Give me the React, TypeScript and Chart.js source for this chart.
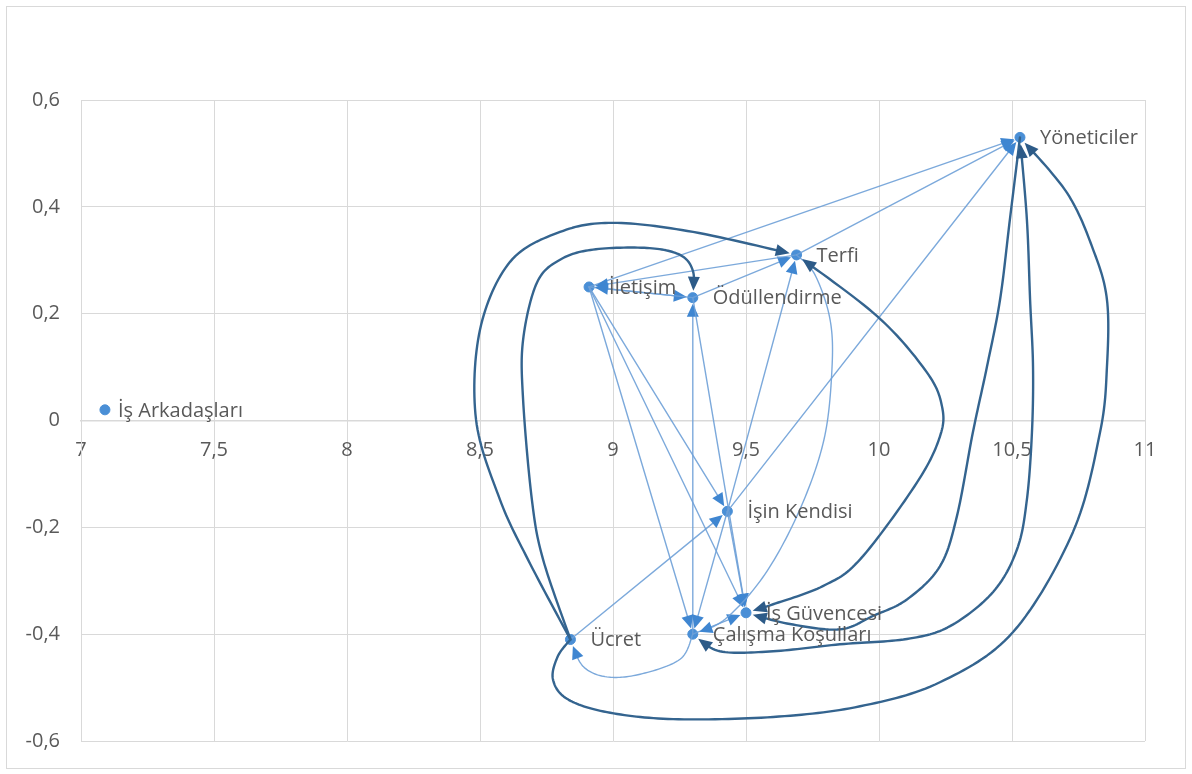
import React, { useEffect, useRef } from "react";
import { Chart, registerables } from "chart.js";

Chart.register(...registerables);

// ---------- data ----------
const nodeNames = [
  "Yöneticiler",
  "Terfi",
  "İletişim",
  "Ödüllendirme",
  "İşin Kendisi",
  "İş Güvencesi",
  "Çalışma Koşulları",
  "Ücret",
  "İş Arkadaşları",
];
const nodeX = [10.53, 9.69, 8.91, 9.3, 9.43, 9.5, 9.3, 8.84, 7.09];
const nodeY = [0.53, 0.31, 0.25, 0.23, -0.17, -0.36, -0.4, -0.41, 0.02];

const xTicks = [7, 7.5, 8, 8.5, 9, 9.5, 10, 10.5, 11];
const yTicks = [-0.6, -0.4, -0.2, 0, 0.2, 0.4, 0.6];

// straight (light) arrows: from index -> to index
const straightFrom = [2, 1, 4, 4, 3, 1, 2, 3, 6, 2, 2, 2, 3, 7, 4, 4, 6];
const straightTo = [0, 0, 0, 1, 1, 2, 3, 2, 3, 4, 5, 6, 5, 4, 6, 5, 5];

// curved arrows: from, to, waypoints (data units), heads
const curveUcretTerfiX = [8.68, 8.575, 8.485, 8.5, 8.613, 8.801, 9.0, 9.301];
const curveUcretTerfiY = [-0.26, -0.148, 0.002, 0.17, 0.297, 0.353, 0.37, 0.353];

const curveUcretOdulX = [8.737, 8.695, 8.662, 8.662, 8.714, 8.801, 8.925, 9.128, 9.252, 9.301];
const curveUcretOdulY = [-0.26, -0.148, 0.039, 0.151, 0.258, 0.301, 0.32, 0.323, 0.31, 0.279];

const curveUcretYonX = [8.793, 8.774, 8.827, 8.977, 9.226, 9.602, 9.929, 10.229, 10.504, 10.729, 10.831, 10.857, 10.857, 10.805, 10.707];
const curveUcretYonY = [-0.441, -0.484, -0.521, -0.546, -0.559, -0.555, -0.535, -0.49, -0.396, -0.209, -0.022, 0.101, 0.226, 0.32, 0.426];

const curveGuvTerfiX = [9.602, 9.789, 9.929, 10.143, 10.229, 10.237, 10.18, 9.996];
const curveGuvTerfiY = [-0.344, -0.31, -0.26, -0.116, -0.03, 0.026, 0.09, 0.194];

const curveYonGuvX = [10.492, 10.455, 10.406, 10.353, 10.293, 10.229, 10.105, 9.977, 9.853, 9.665];
const curveYonGuvY = [0.376, 0.226, 0.101, -0.022, -0.179, -0.273, -0.335, -0.366, -0.391, -0.381];

const curveYonCalX = [10.556, 10.568, 10.579, 10.575, 10.556, 10.519, 10.429, 10.267, 10.105, 9.853, 9.602, 9.402];
const curveYonCalY = [0.376, 0.226, 0.101, -0.022, -0.148, -0.241, -0.321, -0.385, -0.409, -0.419, -0.432, -0.432];

const curveCalUcretX = [9.252, 9.102, 8.977, 8.887];
const curveCalUcretY = [-0.447, -0.475, -0.48, -0.46];

const curveTerfiCalX = [9.759, 9.816, 9.823, 9.793, 9.703, 9.571, 9.421];
const curveTerfiCalY = [0.273, 0.189, 0.095, -0.036, -0.166, -0.288, -0.372];

const darkCurves = [
  { from: 7, to: 1, xs: curveUcretTerfiX, ys: curveUcretTerfiY, both: false },
  { from: 7, to: 3, xs: curveUcretOdulX, ys: curveUcretOdulY, both: false },
  { from: 7, to: 0, xs: curveUcretYonX, ys: curveUcretYonY, both: false },
  { from: 5, to: 1, xs: curveGuvTerfiX, ys: curveGuvTerfiY, both: true },
  { from: 0, to: 5, xs: curveYonGuvX, ys: curveYonGuvY, both: false },
  { from: 0, to: 6, xs: curveYonCalX, ys: curveYonCalY, both: true },
];
const lightCurves = [
  { from: 6, to: 7, xs: curveCalUcretX, ys: curveCalUcretY, both: false },
  { from: 1, to: 6, xs: curveTerfiCalX, ys: curveTerfiCalY, both: false },
];

// ---------- helpers ----------
type P = { x: number; y: number };

function catmull(pts: P[]): P[] {
  const out: P[] = [];
  const n = pts.length;
  for (let i = 0; i < n - 1; i++) {
    const p0 = pts[Math.max(0, i - 1)];
    const p1 = pts[i];
    const p2 = pts[i + 1];
    const p3 = pts[Math.min(n - 1, i + 2)];
    const c1 = { x: p1.x + (p2.x - p0.x) / 6, y: p1.y + (p2.y - p0.y) / 6 };
    const c2 = { x: p2.x - (p3.x - p1.x) / 6, y: p2.y - (p3.y - p1.y) / 6 };
    const steps = 16;
    for (let s = i === 0 ? 0 : 1; s <= steps; s++) {
      const t = s / steps;
      const mt = 1 - t;
      out.push({
        x: mt * mt * mt * p1.x + 3 * mt * mt * t * c1.x + 3 * mt * t * t * c2.x + t * t * t * p2.x,
        y: mt * mt * mt * p1.y + 3 * mt * mt * t * c1.y + 3 * mt * t * t * c2.y + t * t * t * p2.y,
      });
    }
  }
  return out;
}

function trimEnd(pts: P[], gap: number): P[] {
  const res = pts.slice();
  let remain = gap;
  while (res.length > 1) {
    const a = res[res.length - 2];
    const b = res[res.length - 1];
    const d = Math.hypot(b.x - a.x, b.y - a.y);
    if (d >= remain) {
      const t = (d - remain) / d;
      res[res.length - 1] = { x: a.x + (b.x - a.x) * t, y: a.y + (b.y - a.y) * t };
      return res;
    }
    remain -= d;
    res.pop();
  }
  return res;
}

function pointBack(pts: P[], dist: number): P {
  let remain = dist;
  for (let i = pts.length - 1; i > 0; i--) {
    const a = pts[i - 1];
    const b = pts[i];
    const d = Math.hypot(b.x - a.x, b.y - a.y);
    if (d >= remain) {
      const t = (d - remain) / d;
      return { x: a.x + (b.x - a.x) * t, y: a.y + (b.y - a.y) * t };
    }
    remain -= d;
  }
  return pts[0];
}

function drawHead(ctx: CanvasRenderingContext2D, tip: P, from: P, len: number, w: number, color: string) {
  const dx = tip.x - from.x;
  const dy = tip.y - from.y;
  const d = Math.hypot(dx, dy) || 1;
  const ux = dx / d;
  const uy = dy / d;
  const bx = tip.x - ux * len;
  const by = tip.y - uy * len;
  ctx.beginPath();
  ctx.moveTo(tip.x, tip.y);
  ctx.lineTo(bx - uy * w / 2, by + ux * w / 2);
  ctx.lineTo(bx + uy * w / 2, by - ux * w / 2);
  ctx.closePath();
  ctx.fillStyle = color;
  ctx.fill();
}

function strokeArrow(
  ctx: CanvasRenderingContext2D,
  pts: P[],
  both: boolean,
  lineColor: string,
  headColor: string,
  lw: number,
  len: number,
  w: number,
  gap: number
) {
  let path = trimEnd(pts, gap);
  if (both) path = trimEnd(path.slice().reverse(), gap).reverse();
  const tipEnd = path[path.length - 1];
  const dirEnd = pointBack(path, len);
  const tipStart = path[0];
  const dirStart = pointBack(path.slice().reverse(), len);
  const line = trimEnd(path, len * 0.7);
  const line2 = both ? trimEnd(line.slice().reverse(), len * 0.7).reverse() : line;
  ctx.beginPath();
  line2.forEach((p, i) => (i === 0 ? ctx.moveTo(p.x, p.y) : ctx.lineTo(p.x, p.y)));
  ctx.strokeStyle = lineColor;
  ctx.lineWidth = lw;
  ctx.lineJoin = "round";
  ctx.lineCap = "round";
  ctx.stroke();
  drawHead(ctx, tipEnd, dirEnd, len, w, headColor);
  if (both) drawHead(ctx, tipStart, dirStart, len, w, headColor);
}

const fmt = (v: number) => String(Math.round(v * 10) / 10).replace(".", ",");

const arrowPlugin = {
  id: "arrows",
  beforeDraw(chart: any) {
    const ctx = chart.ctx as CanvasRenderingContext2D;
    ctx.save();
    ctx.fillStyle = "#ffffff";
    ctx.fillRect(0, 0, chart.width, chart.height);
    ctx.strokeStyle = "#d9d9d9";
    ctx.lineWidth = 1;
    ctx.strokeRect(6.5, 6.5, chart.width - 13, chart.height - 12);
    ctx.restore();
  },
  afterDatasetsDraw(chart: any) {
    const ctx = chart.ctx as CanvasRenderingContext2D;
    const xs = chart.scales.x;
    const ys = chart.scales.y;
    const px = (i: number): P => ({ x: xs.getPixelForValue(nodeX[i]), y: ys.getPixelForValue(nodeY[i]) });
    ctx.save();
    // light straight arrows
    for (let k = 0; k < straightFrom.length; k++) {
      const a = px(straightFrom[k]);
      const b = px(straightTo[k]);
      strokeArrow(ctx, [a, b], false, "rgba(110,160,215,0.9)", "#3f86d1", 1.4, 13, 12, 6);
    }
    // light curves
    for (const c of lightCurves) {
      const pts: P[] = [px(c.from)];
      c.xs.forEach((x, i) => pts.push({ x: xs.getPixelForValue(x), y: ys.getPixelForValue(c.ys[i]) }));
      pts.push(px(c.to));
      strokeArrow(ctx, catmull(pts), c.both, "rgba(110,160,215,0.9)", "#3f86d1", 1.4, 13, 12, 7);
    }
    // dark curves
    for (const c of darkCurves) {
      const pts: P[] = [px(c.from)];
      c.xs.forEach((x, i) => pts.push({ x: xs.getPixelForValue(x), y: ys.getPixelForValue(c.ys[i]) }));
      pts.push(px(c.to));
      strokeArrow(ctx, catmull(pts), c.both, "#34648f", "#2d5b88", 2.4, 14, 12, 7);
    }
    // labels
    ctx.font = "20px 'Open Sans'";
    ctx.fillStyle = "#595959";
    ctx.textBaseline = "middle";
    ctx.textAlign = "left";
    nodeNames.forEach((name, i) => {
      const p = px(i);
      ctx.fillText(name, p.x + (i === 8 ? 13 : 20), p.y + 1);
    });
    ctx.restore();
  },
};

export default function App() {
  const ref = useRef<HTMLCanvasElement>(null);
  useEffect(() => {
    document.body.style.margin = "0";
    const chart = new Chart(ref.current!, {
      type: "scatter",
      data: {
        datasets: [
          {
            data: nodeX.map((x, i) => ({ x, y: nodeY[i] })),
            backgroundColor: "#4a8fd6",
            borderColor: "#4a8fd6",
            pointRadius: 5,
            pointHoverRadius: 5,
          },
        ],
      },
      options: {
        responsive: false,
        animation: false,
        layout: { padding: { top: 100, right: 47, bottom: 31, left: 0 } },
        plugins: { legend: { display: false }, tooltip: { enabled: false } },
        scales: {
          x: {
            type: "linear",
            min: 7,
            max: 11,
            position: { y: 0 } as any,
            afterBuildTicks: (s: any) => {
              s.ticks = xTicks.map((v) => ({ value: v }));
            },
            grid: { color: "#d9d9d9", drawTicks: false, lineWidth: 1 },
            border: { color: "#d9d9d9", width: 1.5 },
            ticks: {
              color: "#595959",
              font: { family: "'Open Sans'", size: 20 },
              padding: 18,
              maxRotation: 0,
              callback: (v: any) => fmt(Number(v)),
            },
          },
          y: {
            type: "linear",
            min: -0.6,
            max: 0.6,
            afterBuildTicks: (s: any) => {
              s.ticks = yTicks.map((v) => ({ value: v }));
            },
            afterFit: (s: any) => {
              s.width = 81;
            },
            grid: { color: "#d9d9d9", drawTicks: false, lineWidth: 1 },
            border: { color: "#d9d9d9" },
            ticks: {
              color: "#595959",
              font: { family: "'Open Sans'", size: 20 },
              padding: 21,
              callback: (v: any) => fmt(Number(v)),
            },
          },
        },
      },
      plugins: [arrowPlugin],
    });
    return () => chart.destroy();
  }, []);
  return (
    <div style={{ width: 1192, height: 774 }}>
      <canvas ref={ref} width={1192} height={774} style={{ display: "block" }} />
    </div>
  );
}
